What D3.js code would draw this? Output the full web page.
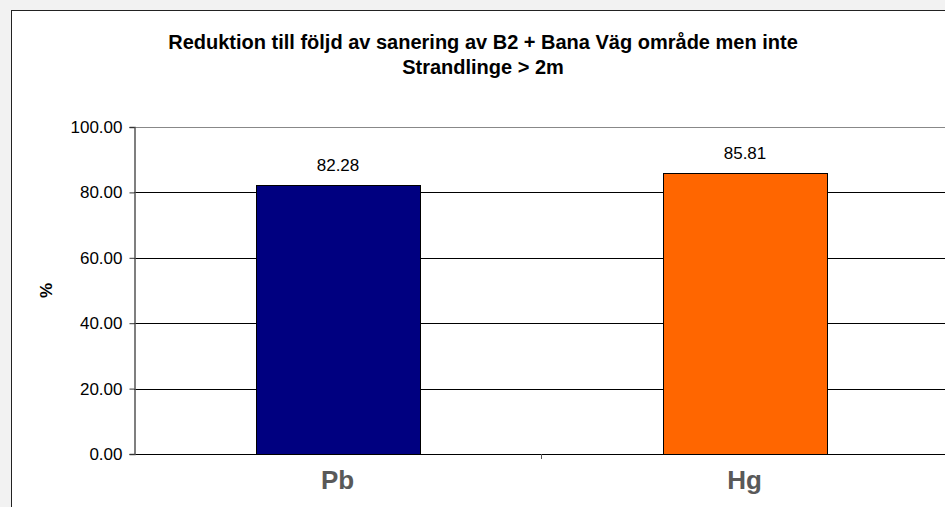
<!DOCTYPE html>
<html>
<head>
<meta charset="utf-8">
<script src="https://cdn.jsdelivr.net/npm/d3@7"></script>
<style>
  body { margin: 0; background: #f2f2f2; font-family: "Liberation Sans", Arial, sans-serif; }
  svg { display: block; }
</style>
</head>
<body>
<div id="wrapper"></div>
<script>
// data
const categories = ["Pb", "Hg"]
const values = [82.28, 85.81]
const colors = ["#000080", "#ff6600"]
const yTicks = [0, 20, 40, 60, 80, 100]
const titleLines = ["Reduktion till följd av sanering av B2 + Bana Väg område men inte", "Strandlinge > 2m"]

const width = 945
const height = 507
const margin = {top: 127, left: 134, bottom: 53}
const bandWidth = 407

const svg = d3.select("#wrapper").append("svg")
    .attr("width", width)
    .attr("height", height)

// chart frame
svg.append("rect")
    .attr("x", 11.5).attr("y", 10.5)
    .attr("width", 960).attr("height", 520)
    .attr("fill", "white")
    .attr("stroke", "#222")

const x = d3.scaleBand()
    .domain(categories)
    .range([margin.left, margin.left + bandWidth * categories.length])
    .paddingInner(0).paddingOuter(0)

const y = d3.scaleLinear()
    .domain([0, 100])
    .range([height - margin.bottom, margin.top])

// gridlines
svg.append("g").selectAll("line")
    .data(yTicks)
    .join("line")
    .attr("x1", margin.left).attr("x2", width + 10)
    .attr("y1", d => Math.round(y(d)) + 0.5)
    .attr("y2", d => Math.round(y(d)) + 0.5)
    .attr("stroke", d => d === 100 ? "#888" : "#000")

// bars
const barW = 164
svg.append("g").selectAll("rect")
    .data(values)
    .join("rect")
    .attr("x", (d, i) => Math.round(x(categories[i]) + (bandWidth - barW) / 2) + 0.5)
    .attr("y", d => Math.round(y(d)) + 0.5)
    .attr("width", barW)
    .attr("height", d => Math.round(y(0)) - Math.round(y(d)))
    .attr("fill", (d, i) => colors[i])
    .attr("stroke", "#000")

// value labels
svg.append("g").selectAll("text")
    .data(values)
    .join("text")
    .attr("x", (d, i) => x(categories[i]) + bandWidth / 2 + 0.5)
    .attr("y", d => y(d) - 14)
    .attr("text-anchor", "middle")
    .attr("font-size", 17)
    .attr("fill", "#000")
    .text(d => d3.format(".2f")(d))

// y axis
const yAxis = svg.append("g")
    .attr("transform", `translate(${margin.left + 0.5},0)`)
    .call(d3.axisLeft(y).tickValues(yTicks).tickFormat(d3.format(".2f")).tickSizeOuter(0).tickSize(5).tickPadding(7))
yAxis.select(".domain").attr("stroke", "#555").attr("stroke-width", 1.5)
yAxis.selectAll(".tick line").attr("stroke", "#333")
yAxis.selectAll(".tick text")
    .attr("font-size", 17)
    .attr("font-family", "Liberation Sans, Arial, sans-serif")
    .attr("fill", "#000")

// x axis tick marks between categories
svg.append("g").selectAll("line")
    .data(categories.slice(1))
    .join("line")
    .attr("x1", d => Math.round(x(d)) + 0.5)
    .attr("x2", d => Math.round(x(d)) + 0.5)
    .attr("y1", y(0))
    .attr("y2", y(0) + 5)
    .attr("stroke", "#555")

// category labels
svg.append("g").selectAll("text")
    .data(categories)
    .join("text")
    .attr("x", d => x(d) + bandWidth / 2)
    .attr("y", 489)
    .attr("text-anchor", "middle")
    .attr("font-size", 26)
    .attr("font-weight", "bold")
    .attr("fill", "#595959")
    .text(d => d)

// y title
svg.append("text")
    .attr("transform", `translate(52,${(y(0) + y(100)) / 2}) rotate(-90)`)
    .attr("text-anchor", "middle")
    .attr("font-size", 17)
    .attr("font-weight", "bold")
    .text("%")

// title
svg.append("g").selectAll("text")
    .data(titleLines)
    .join("text")
    .attr("x", 483)
    .attr("y", (d, i) => 49 + i * 25)
    .attr("text-anchor", "middle")
    .attr("font-size", 20)
    .attr("font-weight", "bold")
    .text(d => d)
</script>
</body>
</html>
